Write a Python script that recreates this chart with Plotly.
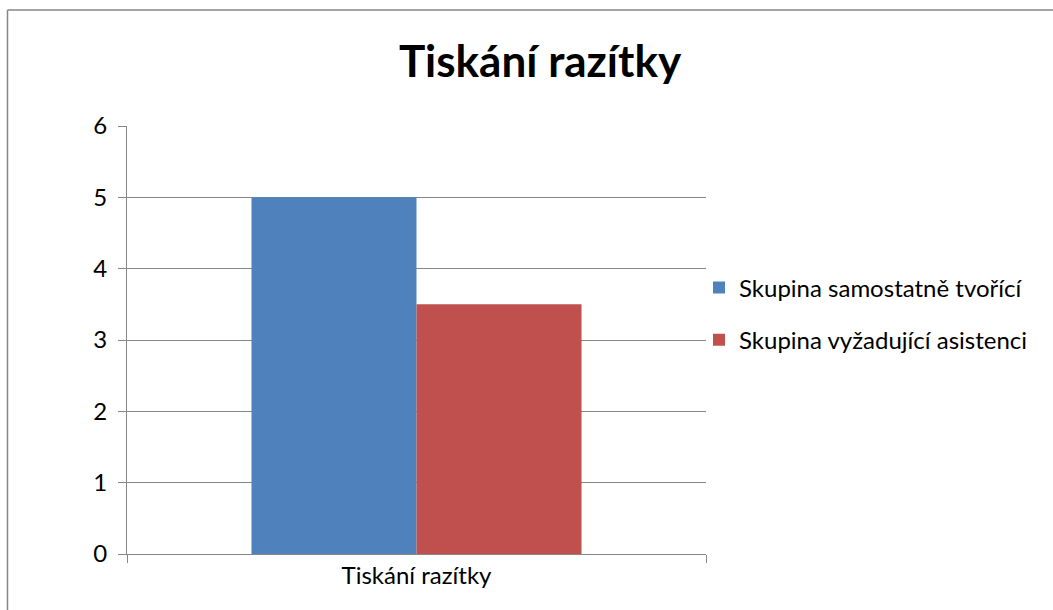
import plotly.graph_objects as go

categories = ["Tiskání razítky"]
series_names = ["Skupina samostatně tvořící", "Skupina vyžadující asistenci"]
series_values = [[5], [3.5]]
colors = ["#4F81BD", "#C0504D"]
title_text = "Tiskání razítky"

W, H = 1053, 610
L, R, T, B = 127, 706, 126, 554
FONT = "Lato, Open Sans, sans-serif"

def px_x(p):
    return (p - L) / (R - L)

def px_y(p):
    return (B - p) / (B - T)

fig = go.Figure()
for i, (name, vals) in enumerate(zip(series_names, series_values)):
    fig.add_trace(go.Bar(
        x=categories, y=vals, name=name, marker_color=colors[i],
        marker_line_width=0, legendgroup=f"g{i}",
    ))

grid = "#868686"
fig.update_layout(
    width=W, height=H,
    margin=dict(l=L, r=W - R, t=T, b=H - B),
    paper_bgcolor="white", plot_bgcolor="white",
    barmode="group", bargap=0.43, bargroupgap=0,
    font=dict(family=FONT, size=24, color="black"),
    title=dict(text="<b>" + title_text + "</b>", x=540 / W, xanchor="center",
               y=1 - 62 / H, yanchor="middle",
               font=dict(size=44, family=FONT, color="black")),
    legend=dict(x=px_x(699), xanchor="left", y=px_y(314), yanchor="middle",
                traceorder="grouped", tracegroupgap=18,
                font=dict(size=24), bgcolor="rgba(0,0,0,0)"),
    showlegend=True,
)
fig.update_yaxes(
    range=[0, 6], dtick=1, showgrid=True, gridcolor=grid, gridwidth=1.3,
    showline=True, linecolor=grid, linewidth=1.3,
    ticks="outside", ticklen=8, tickcolor=grid, tickwidth=1.3, zeroline=False,
    tickfont=dict(size=24), ticklabelstandoff=6,
)
fig.update_xaxes(
    showline=True, linecolor=grid, linewidth=1.3,
    ticks="outside", ticklen=8, tickcolor=grid, tickwidth=1.3, tickson="boundaries",
    tickfont=dict(size=24),
)
# chart border (left and top edges visible)
fig.add_shape(type="line", xref="paper", yref="paper",
              x0=px_x(7.5), x1=px_x(W + 5), y0=px_y(10), y1=px_y(10),
              line=dict(color=grid, width=1.5))
fig.add_shape(type="line", xref="paper", yref="paper",
              x0=px_x(7.5), x1=px_x(7.5), y0=px_y(10), y1=px_y(H + 5),
              line=dict(color=grid, width=1.5))

fig.write_html("out.html", config={"displayModeBar": False},
               post_script="document.body.style.margin='0';")
